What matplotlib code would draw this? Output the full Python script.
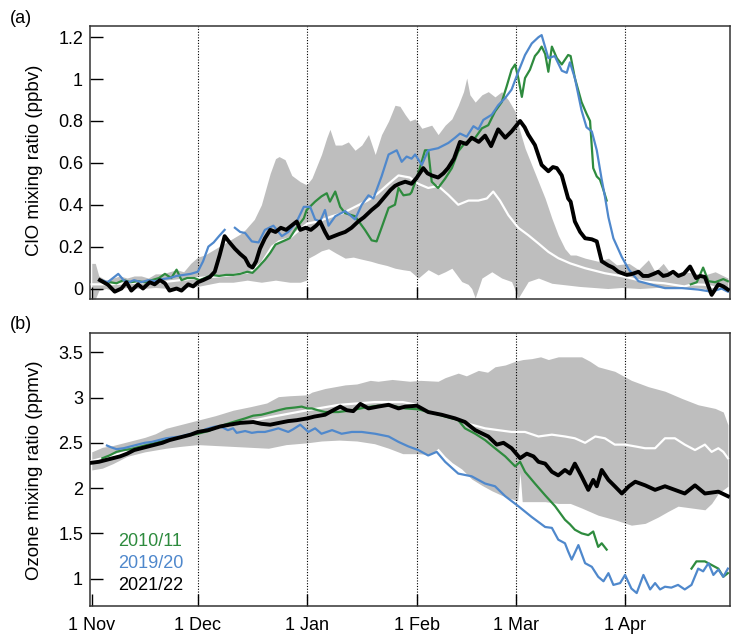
import numpy as np
import matplotlib
matplotlib.use("Agg")
import matplotlib.pyplot as plt

plt.rcParams['font.family'] = ['Liberation Sans', 'DejaVu Sans']

nan = np.nan
# ---------------- data (day since 1 Nov, value) ----------------
month_days = [0, 30, 61, 92, 120, 151]
month_labels = ["1 Nov", "1 Dec", "1 Jan", "1 Feb", "1 Mar", "1 Apr"]

# Panel (a): ClO (ppbv)
clo_2021 = [(2.3,0.04),(4.6,0.018),(6.5,-0.015),(8.4,0.0),(9.8,0.03),(11.2,-0.01),(13.1,0.02),(14.5,0.0),
            (16.4,0.03),(17.8,0.02),(19.3,0.04),(20.7,0.025),(22,-0.01),(24,0.0),(25.4,-0.01),(27.3,0.02),
            (28.7,0.01),(30,0.03),(31.5,0.04),(33.4,0.055),(34.8,0.08),(36.2,0.16),(37.6,0.25),(39,0.22),
            (40.5,0.19),(42,0.165),(43.4,0.145),(44.5,0.11),(45.5,0.10),(46.5,0.13),(47.6,0.19),(49,0.24),
            (50.5,0.28),(52,0.27),(53.5,0.29),(55,0.28),(56.5,0.30),(58,0.32),(59,0.28),(60.5,0.29),
            (62,0.28),(63.5,0.30),(64.6,0.32),(66,0.27),(67,0.24),(68.5,0.25),(70,0.26),(71.7,0.27),
            (73.5,0.29),(75.4,0.32),(77,0.34),(79.2,0.375),(81,0.40),(83,0.44),(84.5,0.47),(85.8,0.49),
            (87,0.50),(88.7,0.51),(90.5,0.50),(92,0.53),(93.8,0.575),(95,0.55),(96.2,0.54),(98,0.53),
            (99.5,0.55),(100.8,0.575),(102.5,0.62),(104.2,0.70),(106,0.69),(107.5,0.72),(109.5,0.70),
            (111.3,0.73),(113,0.68),(115,0.76),(117,0.72),(118.8,0.75),(121.2,0.80),(122.5,0.77),
            (123.5,0.735),(125.4,0.685),(127.3,0.59),(129.2,0.56),(130.5,0.58),(131.6,0.575),(133,0.54),
            (134.8,0.43),(135.5,0.415),(136.7,0.32),(138.2,0.27),(139.6,0.24),(141.5,0.235),(142.9,0.225),
            (144.3,0.13),(146.2,0.11),(147.5,0.10),(149,0.08),(151.4,0.065),(153,0.07),(154.7,0.08),
            (156,0.06),(157.5,0.06),(159,0.07),(160.3,0.08),(161.7,0.06),(163,0.065),(164.5,0.08),
            (166,0.06),(167.5,0.07),(169.3,0.105),(171,0.05),(172.2,0.06),(173.5,0.055),(175.4,-0.03),
            (177.3,0.02),(178.7,0.01),(180,-0.005)]

clo_2019 = [(2.7,0.04),(4.5,0.03),(6,0.05),(7.5,0.07),(9,0.04),(10.5,0.03),(12,0.04),(14,0.03),(16,0.04),
            (18,0.035),(20,0.045),(22,0.05),(24,0.06),(26,0.065),(28,0.07),(30,0.08),(31.5,0.13),(33,0.20),
            (34.5,0.22),(36,0.25),(37.6,0.28),(nan,nan),(40.5,0.29),(42,0.27),(43.4,0.265),(45.3,0.225),
            (47.2,0.22),(49,0.28),(51.4,0.30),(53.8,0.25),(55.6,0.27),(58,0.32),(60,0.39),(61.8,0.39),
            (63.2,0.33),(64.6,0.32),(66,0.375),(67,0.30),(68.9,0.345),(71.7,0.37),(74.5,0.33),(76.4,0.40),
            (78.3,0.445),(79.7,0.43),(82,0.535),(84,0.64),(86.3,0.66),(87.7,0.605),(89.1,0.63),(90.5,0.62),
            (91.5,0.64),(93.4,0.59),(95.2,0.66),(98,0.67),(100.9,0.695),(102.8,0.72),(104.2,0.74),
            (106.1,0.725),(108,0.775),(109.4,0.76),(110.8,0.805),(113.2,0.83),(115,0.875),(117,0.91),
            (118.8,0.95),(120.7,1.035),(122.6,1.115),(124.5,1.17),(126.4,1.20),(127.3,1.21),(129.2,1.10),
            (131,1.11),(133,1.04),(134.4,1.03),(135.3,1.08),(136.7,1.005),(138.6,0.85),(140,0.77),
            (141.5,0.75),(142.9,0.66),(144.3,0.52),(145.2,0.44),(146.2,0.34),(147.6,0.24),(150,0.15),
            (152,0.09),(154.7,0.035),(158.5,0.018),(162.2,0.002),(167,0.002),(171.6,-0.005),
            (175.4,-0.015),(178.2,0.0),(180,-0.015)]

clo_2010 = [(5.2,0.03),(7,0.025),(9,0.04),(11,0.03),(13,0.035),(15,0.03),(17,0.04),(19,0.05),(20.7,0.07),
            (22.5,0.05),(24,0.09),(25.4,0.04),(27,0.05),(29,0.05),(30.5,0.04),(32,0.05),(34,0.065),
            (36,0.06),(38,0.065),(40,0.065),(42,0.07),(44,0.08),(45.5,0.075),(47,0.10),(49,0.137),
            (50.5,0.17),(52,0.21),(54.7,0.23),(56,0.24),(57.5,0.28),(60,0.335),(60.8,0.375),(63.2,0.415),
            (65,0.44),(66.5,0.455),(67.4,0.415),(68.9,0.463),(70.3,0.39),(71.7,0.36),(74.5,0.345),
            (77.3,0.28),(79.2,0.23),(80.6,0.225),(82,0.29),(84,0.385),(85.8,0.40),(86.8,0.48),(88.2,0.445),
            (90,0.45),(90.5,0.46),(92.4,0.55),(94.3,0.66),(95.2,0.66),(96.2,0.51),(98,0.48),(100,0.525),
            (101.9,0.575),(103.7,0.655),(105.6,0.695),(108.5,0.72),(110.4,0.765),(112.2,0.78),
            (114.1,0.845),(116,0.89),(117.4,0.965),(118.8,1.045),(119.8,1.07),(120.7,1.005),(121.7,0.915),
            (122.6,1.005),(124,1.045),(125.4,1.11),(126.4,1.13),(127.3,1.155),(128.3,1.12),(129.2,1.035),
            (130.2,1.155),(131.6,1.10),(133,1.07),(134.8,1.115),(135.5,1.11),(136.7,1.005),(138.6,0.89),
            (140,0.835),(141,0.80),(141.9,0.575),(142.9,0.535),(143.8,0.52),(144.8,0.47),(145.7,0.42),
            (nan,nan),(169.5,0.02),(171.2,0.03),(173,0.10),(174.5,0.035),(176.4,0.03),(178.7,0.045),
            (180,0.035)]

clo_median = [(0,0.02),(5,0.02),(10,0.025),(15,0.03),(20,0.03),(25,0.04),(30,0.05),(35,0.057),(40,0.065),
              (45,0.08),(48,0.12),(51,0.20),(53,0.225),(56,0.24),(58,0.27),(61,0.31),(64,0.32),(68,0.345),
              (71,0.36),(74.5,0.39),(78,0.42),(81,0.455),(84,0.50),(86.8,0.54),(90,0.53),(92.4,0.50),
              (95.2,0.48),(98,0.49),(100.9,0.447),(103.7,0.40),(106.6,0.42),(109.4,0.42),(111.8,0.43),
              (113.6,0.463),(115.5,0.42),(117.9,0.35),(120.7,0.29),(123.5,0.255),(126.4,0.215),
              (129.2,0.175),(132,0.145),(135.4,0.12),(139.6,0.097),(145.2,0.073),(150.6,0.057),
              (156.3,0.033),(162,0.025),(167.7,0.01),(170,0.02),(173.5,0.018),(177.3,0.0),(180,0.0)]

clo_upper = [(0,0.12),(1,0.12),(2,0.06),(4,0.04),(6,0.05),(8,0.06),(10,0.05),(12,0.06),(14,0.06),(16,0.05),
             (18,0.07),(20,0.07),(22,0.08),(24,0.09),(26,0.08),(28,0.12),(30,0.15),(32,0.16),(34,0.18),
             (36,0.20),(38,0.22),(40,0.24),(42,0.26),(43.4,0.28),(46,0.33),(48,0.40),(49,0.46),(50.5,0.55),
             (52,0.62),(53,0.63),(54.7,0.615),(56.6,0.54),(59,0.51),(60.8,0.495),(62.3,0.527),(65,0.64),
             (66.5,0.72),(67.4,0.76),(68.9,0.685),(70.7,0.685),(72.6,0.70),(74.5,0.66),(76.4,0.685),
             (78.3,0.735),(80.2,0.64),(82,0.735),(84,0.80),(85.8,0.875),(87.2,0.87),(88.7,0.83),(90,0.80),
             (91.5,0.81),(93.4,0.765),(96.2,0.78),(98,0.735),(100,0.78),(101.9,0.81),(103.7,0.875),
             (105.2,0.94),(106.1,1.005),(107,0.925),(108.5,0.89),(110.4,0.925),(112.2,0.94),(114.1,0.915),
             (116,0.94),(117.9,0.90),(119.8,0.845),(121.2,0.75),(122.6,0.67),(124.5,0.59),(126.4,0.51),
             (128.3,0.43),(130.2,0.335),(132,0.255),(133.9,0.19),(135.4,0.16),(137,0.16),(139.6,0.145),
             (143.3,0.13),(146.2,0.145),(148.5,0.113),(152,0.12),(154.7,0.09),(157.5,0.137),(159.4,0.08),
             (161.7,0.12),(164.1,0.065),(167,0.08),(169.8,0.075),(173.5,0.065),(176.4,0.08),(180,0.05)]

clo_lower = [(0,-0.05),(1,-0.05),(2,-0.01),(4,0.0),(6,-0.01),(8,0.0),(10,0.005),(14,0.0),(18,0.005),
             (22,0.0),(26,0.005),(30,0.01),(33,0.02),(36,0.03),(40,0.03),(44,0.04),(48,0.03),(52,0.04),
             (56,0.03),(59,0.03),(60.8,0.04),(61.3,0.145),(63,0.16),(65,0.18),(67,0.19),(69,0.17),
             (71.7,0.145),(74,0.15),(76.4,0.14),(79,0.13),(81,0.12),(83.5,0.11),(85.8,0.097),(88,0.09),
             (90,0.085),(92.4,0.05),(95.2,0.09),(98,0.065),(100,0.08),(101.9,0.097),(104.7,0.033),
             (106.5,0.02),(107.5,0.0),(108.5,-0.045),(110.4,0.05),(113.2,0.08),(116,0.05),(118.8,0.033),
             (120.7,-0.045),(123.5,0.033),(126.4,0.05),(130.2,0.025),(133.9,0.018),(138,0.01),(142,0.005),
             (146,0.0),(150,0.005),(155,0.0),(160,0.005),(165,0.0),(170,0.005),(173.5,0.0),(175.4,-0.04),
             (177,0.0),(180,-0.01)]

# Panel (b): ozone (ppmv)
o3_2021 = [(0,2.28),(2,2.29),(4,2.31),(6,2.33),(8,2.35),(10,2.38),(12,2.42),(14,2.44),(16,2.46),(18,2.48),
           (20,2.50),(22,2.53),(24,2.55),(26,2.57),(28,2.59),(30,2.62),(33,2.64),(36.3,2.68),(39,2.70),
           (42,2.72),(45.7,2.73),(48,2.71),(50.5,2.70),(53,2.72),(55.6,2.74),(58,2.75),(61,2.77),(63,2.79),
           (66,2.81),(67.4,2.84),(70.3,2.90),(72.2,2.86),(74,2.85),(76,2.93),(78.3,2.88),(81,2.90),(84,2.92),
           (86.8,2.88),(88.7,2.90),(92,2.91),(95.2,2.84),(99,2.81),(102.8,2.77),(105.6,2.73),(108.5,2.64),
           (112.2,2.57),(114.6,2.48),(116.5,2.50),(118.8,2.44),(121.2,2.33),(123.1,2.38),(125,2.35),
           (126.4,2.29),(128.3,2.27),(130.2,2.18),(132,2.14),(133.9,2.20),(135.3,2.16),(136.7,2.27),
           (138.6,2.13),(140.5,1.98),(141.9,2.09),(142.9,2.02),(144.3,2.20),(146.2,2.09),(148,2.02),
           (150,1.94),(152,2.02),(153.8,2.07),(156.6,2.03),(159.4,1.98),(162.2,2.02),(165,1.98),
           (167.8,1.94),(170.7,2.03),(173.5,1.94),(177.3,1.96),(180,1.91)]

o3_2019 = [(4.3,2.47),(5.5,2.45),(7,2.43),(9,2.44),(11,2.46),(13,2.48),(15,2.50),(17,2.51),(19,2.53),
           (21,2.55),(23,2.56),(25,2.57),(27,2.59),(29,2.61),(31,2.63),(33,2.66),(35,2.68),(37,2.67),
           (38.5,2.64),(40,2.66),(41,2.61),(43.4,2.63),(45.3,2.61),(47,2.62),(49,2.62),(51,2.64),
           (52.8,2.66),(55.6,2.62),(57,2.65),(59,2.70),(61.3,2.62),(63.2,2.66),(65,2.60),(68,2.64),
           (70.7,2.60),(73.6,2.62),(76.4,2.62),(80.2,2.60),(84,2.57),(86.8,2.51),(89.6,2.46),(92.4,2.42),
           (95.2,2.36),(97.6,2.40),(100,2.29),(103.7,2.16),(107.5,2.13),(111.3,2.05),(114.1,2.02),
           (117,1.91),(120.7,1.80),(124.5,1.68),(128.3,1.57),(130.2,1.56),(132,1.43),(133.9,1.39),
           (134.8,1.30),(135.8,1.21),(137.7,1.37),(139.6,1.17),(141.5,1.13),(143.3,1.02),(144.8,0.97),
           (146.2,1.06),(147.6,0.93),(149.5,0.95),(150.9,1.04),(152.7,0.89),(154.2,0.84),(156.1,1.04),
           (158,0.88),(159.4,0.95),(160.8,0.88),(162.2,0.91),(164,0.90),(165.9,0.93),(167.8,0.88),
           (169.7,0.93),(171.6,1.11),(173,1.08),(174.5,1.17),(175.9,1.04),(177.3,1.10),(178.7,1.02),
           (180,1.11)]

o3_2010 = [(3,2.33),(5,2.36),(7,2.40),(9,2.42),(11,2.43),(13,2.45),(15,2.47),(17,2.49),(19,2.51),(21,2.53),
           (23,2.54),(25,2.56),(27,2.58),(30,2.60),(33,2.63),(36,2.68),(40,2.73),(43.4,2.77),(45.7,2.80),
           (48,2.81),(50,2.83),(52.8,2.86),(55,2.88),(57.5,2.89),(59.4,2.90),(61,2.88),(62.3,2.88),
           (64,2.86),(66,2.84),(69.8,2.84),(73.6,2.86),(77.3,2.89),(81,2.91),(84.9,2.91),(88.7,2.88),
           (92.4,2.87),(96.2,2.83),(100,2.79),(103.7,2.75),(105.6,2.66),(108.5,2.60),(111.3,2.53),
           (114.1,2.44),(117,2.35),(119.8,2.24),(121.2,2.29),(122.6,2.18),(125.4,2.05),(128.3,1.92),
           (131.1,1.80),(133.9,1.65),(135.3,1.60),(136.7,1.54),(138.6,1.50),(140.5,1.48),(141.9,1.52),
           (143.3,1.35),(144.3,1.39),(145.7,1.32),(nan,nan),(169.7,1.11),(171.1,1.19),(173.5,1.19),
           (175.4,1.15),(177.3,1.11),(178.7,1.02),(180,1.06)]

o3_median = [(0,2.30),(10,2.40),(20,2.52),(30,2.62),(40,2.70),(50,2.78),(61,2.86),(70,2.92),(80,2.95),
             (88,2.95),(92,2.92),(95,2.84),(98,2.81),(103.7,2.75),(107.5,2.70),(111.3,2.66),(115,2.64),
             (118.8,2.62),(122.6,2.62),(126.4,2.57),(130.2,2.59),(133.9,2.57),(136.7,2.55),(139.6,2.50),
             (142.5,2.57),(145.2,2.55),(148,2.48),(150.9,2.48),(153.8,2.46),(156.6,2.44),(159.4,2.44),
             (162.2,2.55),(165,2.55),(167.8,2.48),(170.7,2.42),(173.5,2.48),(175.4,2.40),(177.3,2.44),
             (178.7,2.40),(180,2.33)]

o3_upper = [(0,2.40),(3,2.45),(6,2.47),(9,2.50),(12,2.53),(15,2.56),(18,2.60),(21,2.66),(25,2.70),(30,2.75),
            (35,2.80),(40,2.86),(45,2.90),(49.5,2.94),(52.8,3.01),(56,3.02),(61,3.03),(62.3,3.06),(66,3.10),
            (71.7,3.14),(75,3.15),(78.8,3.19),(81,3.18),(85,3.20),(90,3.18),(93,3.19),(98,3.18),(100,3.22),
            (103.7,3.27),(106,3.24),(109.4,3.30),(112,3.28),(114.1,3.34),(117,3.36),(119.8,3.40),(122,3.42),
            (124.5,3.43),(127,3.45),(129.2,3.42),(132,3.45),(135.4,3.45),(138.6,3.45),(141,3.40),
            (143.3,3.34),(148,3.29),(152.7,3.19),(157.5,3.12),(162.2,3.07),(167,2.99),(171.6,2.92),
            (176.4,2.88),(178.7,2.84),(180,2.70)]

o3_lower = [(0,2.20),(3,2.22),(6,2.27),(10,2.35),(15,2.40),(21,2.44),(25,2.46),(30,2.48),(35,2.47),(40,2.46),
            (45,2.45),(50,2.44),(55,2.48),(61,2.50),(65,2.52),(70,2.53),(75,2.52),(80,2.49),(84,2.44),
            (88,2.38),(92,2.38),(96,2.37),(98,2.44),(100,2.35),(102,2.28),(104.7,2.21),(107.5,2.10),
            (110.4,2.03),(113.2,1.97),(116,1.92),(118.8,1.88),(120.5,1.86),(121.2,2.17),(121.8,1.85),
            (124,1.85),(128.3,1.85),(132,1.83),(135.4,1.83),(138.6,1.78),(143.3,1.70),(148,1.65),
            (152.7,1.59),(156.6,1.61),(160.3,1.68),(163,1.74),(165.9,1.80),(169.7,1.78),(173.5,1.76),
            (175.4,1.83),(177.3,1.94),(180,2.02)]

legend_labels = ["2010/11", "2019/20", "2021/22"]

# ---------------- styling ----------------
GREEN = "#2e8b3e"
BLUE = "#4f88cc"
GRAY = "#bebebe"
FS = 13


def xy(pairs):
    a = np.array(pairs, dtype=float)
    return a[:, 0], a[:, 1]


def band(upper, lower):
    xu, yu = xy(upper)
    xl, yl = xy(lower)
    grid = np.union1d(xu, xl)
    return grid, np.interp(grid, xu, yu), np.interp(grid, xl, yl)


fig = plt.figure(figsize=(7.37, 6.34), dpi=100)
ax_a = fig.add_axes([0.1221, 0.5284, 0.8684, 0.4311])
ax_b = fig.add_axes([0.1221, 0.0446, 0.8684, 0.4297])


def draw(ax, upper, lower, median, s2010, s2019, s2021):
    g, up, lo = band(upper, lower)
    ax.fill_between(g, lo, up, color=GRAY, lw=0, zorder=1)
    for d in month_days[1:]:
        ax.axvline(d, color="black", ls=(0, (1, 1.5)), lw=0.8, zorder=2)
    ax.plot(*xy(median), color="white", lw=1.6, zorder=3)
    ax.plot(*xy(s2010), color=GREEN, lw=1.6, zorder=4)
    ax.plot(*xy(s2019), color=BLUE, lw=1.6, zorder=4)
    ax.plot(*xy(s2021), color="black", lw=2.8, zorder=5)
    ax.set_xlim(-0.5, 180.6)
    ax.set_xticks(month_days)
    ax.tick_params(axis='both', direction='in', length=9, width=1.0, labelsize=FS,
                   top=False, right=False)
    ax.tick_params(axis='y', pad=5)
    ax.tick_params(axis='x', pad=8)
    for sp in ax.spines.values():
        sp.set_linewidth(1.1)
        sp.set_color("#333333")


draw(ax_a, clo_upper, clo_lower, clo_median, clo_2010, clo_2019, clo_2021)
ax_a.set_ylim(-0.05, 1.255)
ax_a.set_yticks([0, 0.2, 0.4, 0.6, 0.8, 1.0, 1.2])
ax_a.set_yticklabels(["0", "0.2", "0.4", "0.6", "0.8", "1", "1.2"])
ax_a.set_xticklabels([])

draw(ax_b, o3_upper, o3_lower, o3_median, o3_2010, o3_2019, o3_2021)
ax_b.set_ylim(0.70, 3.71)
ax_b.set_yticks([1, 1.5, 2, 2.5, 3, 3.5])
ax_b.set_yticklabels(["1", "1.5", "2", "2.5", "3", "3.5"])
ax_b.set_xticklabels(month_labels)

fig.text(35 / 737, 1 - 160 / 634, "ClO mixing ratio (ppbv)", rotation=90, ha="center", va="center", fontsize=13.5)
fig.text(35 / 737, 1 - 470 / 634, "Ozone mixing ratio (ppmv)", rotation=90, ha="center", va="center", fontsize=13.5)
fig.text(10 / 737, 1 - 10 / 634, "(a)", ha="left", va="top", fontsize=FS)
fig.text(10 / 737, 1 - 316 / 634, "(b)", ha="left", va="top", fontsize=FS)

for lab, col, yf in zip(legend_labels, [GREEN, BLUE, "black"], [0.234, 0.155, 0.075]):
    ax_b.text(0.044, yf, lab, color=col, fontsize=FS, transform=ax_b.transAxes, ha="left", va="center")

fig.savefig("out.png", dpi=100)
